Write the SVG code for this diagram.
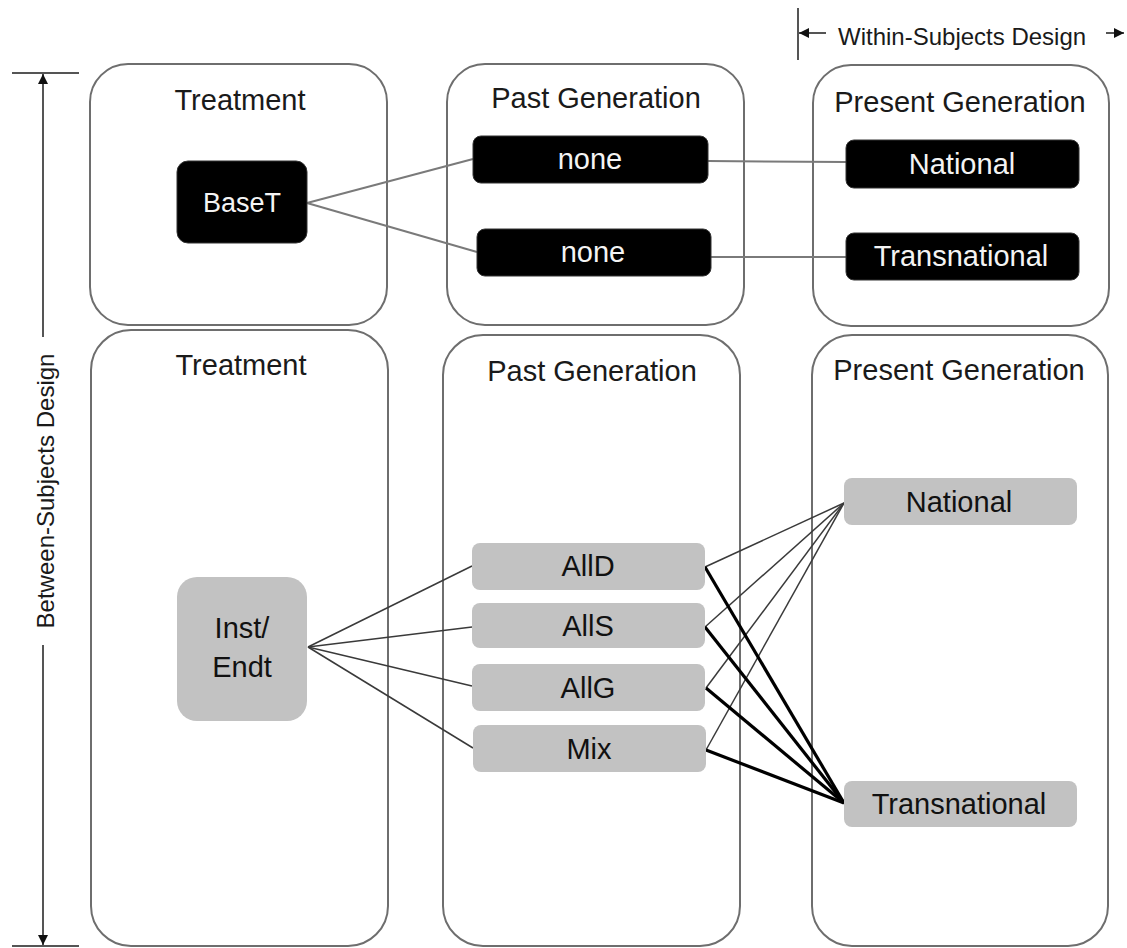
<svg xmlns="http://www.w3.org/2000/svg" width="1127" height="948" viewBox="0 0 1127 948">
<defs>
<style>
.panel{fill:#fff;stroke:#6e6e6e;stroke-width:2}
.title{font-family:"Liberation Sans",Arial,sans-serif;font-size:29px;fill:#1a1a1a;text-anchor:middle}
.lbl{font-family:"Liberation Sans",Arial,sans-serif;font-size:29px;text-anchor:middle}
.dark rect{fill:#000;stroke:#333;stroke-width:1}
.dark text{fill:#f4f4f4}
.light rect{fill:#c2c2c2}
.light text{fill:#111}
.ctop{stroke:#7a7a7a;stroke-width:2;fill:none}
.thin{stroke:#3a3a3a;stroke-width:1.5;fill:none}
.thick{stroke:#000;stroke-width:3.2;fill:none}
.axis{stroke:#555;stroke-width:2;fill:none}
.axtxt{font-family:"Liberation Sans",Arial,sans-serif;font-size:24px;fill:#1a1a1a}
</style>
<marker id="ah" viewBox="0 0 10 10" refX="10" refY="5" markerWidth="10" markerHeight="10" markerUnits="userSpaceOnUse" orient="auto">
<path d="M0,0 L10,5 L0,10 z" fill="#111"/>
</marker>
</defs>

<g id="axes">
<line class="axis" x1="12" y1="73" x2="79" y2="73"/>
<line class="axis" x1="12" y1="946" x2="79" y2="946"/>
<line class="axis" x1="43" y1="337" x2="43" y2="74" marker-end="url(#ah)"/>
<line class="axis" x1="43" y1="645" x2="43" y2="945" marker-end="url(#ah)"/>
<text class="axtxt" transform="translate(54,491) rotate(-90)" text-anchor="middle">Between-Subjects Design</text>
<line class="axis" x1="798" y1="8" x2="798" y2="60"/>
<line class="axis" x1="826" y1="33" x2="799" y2="33" marker-end="url(#ah)"/>
<text class="axtxt" x="838" y="45">Within-Subjects Design</text>
<line class="axis" x1="1106" y1="33" x2="1124" y2="33" marker-end="url(#ah)"/>
</g>

<g id="panel-treatment-top"><rect class="panel" x="90" y="64" width="297" height="261" rx="38"/><text class="title" x="240" y="110">Treatment</text></g>
<g id="panel-past-top"><rect class="panel" x="447" y="64" width="297" height="261" rx="38"/><text class="title" x="596" y="108">Past Generation</text></g>
<g id="panel-present-top"><rect class="panel" x="813" y="65" width="296" height="261" rx="38"/><text class="title" x="960" y="112">Present Generation</text></g>
<g id="panel-treatment-bottom"><rect class="panel" x="91" y="330" width="297" height="616" rx="40"/><text class="title" x="241" y="375">Treatment</text></g>
<g id="panel-past-bottom"><rect class="panel" x="443" y="335" width="297" height="611" rx="40"/><text class="title" x="592" y="381">Past Generation</text></g>
<g id="panel-present-bottom"><rect class="panel" x="812" y="335" width="296" height="611" rx="40"/><text class="title" x="959" y="380">Present Generation</text></g>

<g id="connectors">
<line class="ctop" x1="307" y1="203" x2="473" y2="159"/>
<line class="ctop" x1="307" y1="203" x2="477" y2="252"/>
<line class="ctop" x1="708" y1="161" x2="846" y2="162"/>
<line class="ctop" x1="711" y1="257" x2="846" y2="257"/>
<line class="thin" x1="308" y1="647" x2="472" y2="566"/>
<line class="thin" x1="308" y1="647" x2="472" y2="627"/>
<line class="thin" x1="308" y1="647" x2="472" y2="686"/>
<line class="thin" x1="308" y1="647" x2="473" y2="748"/>
<line class="thin" x1="705" y1="567" x2="844" y2="503"/>
<line class="thin" x1="705" y1="627" x2="844" y2="503"/>
<line class="thin" x1="706" y1="688" x2="844" y2="503"/>
<line class="thin" x1="706" y1="750" x2="844" y2="503"/>
<line class="thick" x1="705" y1="567" x2="844" y2="803"/>
<line class="thick" x1="705" y1="627" x2="844" y2="803"/>
<line class="thick" x1="706" y1="688" x2="844" y2="803"/>
<line class="thick" x1="706" y1="750" x2="844" y2="803"/>
</g>

<g id="node-baset" class="dark"><rect x="177" y="161" width="130" height="82" rx="11"/><text class="lbl" x="242" y="212" style="font-size:27px">BaseT</text></g>
<g id="node-none1" class="dark"><rect x="473" y="136" width="235" height="47" rx="8"/><text class="lbl" x="590" y="169">none</text></g>
<g id="node-none2" class="dark"><rect x="477" y="229" width="234" height="47" rx="8"/><text class="lbl" x="593" y="262">none</text></g>
<g id="node-national-top" class="dark"><rect x="846" y="140" width="233" height="48" rx="8"/><text class="lbl" x="962" y="174">National</text></g>
<g id="node-transnational-top" class="dark"><rect x="846" y="233" width="233" height="47" rx="8"/><text class="lbl" x="961" y="266">Transnational</text></g>

<g id="node-instendt" class="light"><rect x="177" y="577" width="130" height="144" rx="20"/><text class="lbl" x="242" y="638">Inst/</text><text class="lbl" x="242" y="677">Endt</text></g>
<g id="node-alld" class="light"><rect x="472" y="543" width="233" height="47" rx="8"/><text class="lbl" x="588" y="576">AllD</text></g>
<g id="node-alls" class="light"><rect x="472" y="603" width="233" height="45" rx="8"/><text class="lbl" x="588" y="636">AllS</text></g>
<g id="node-allg" class="light"><rect x="472" y="664" width="233" height="47" rx="8"/><text class="lbl" x="588" y="698">AllG</text></g>
<g id="node-mix" class="light"><rect x="473" y="725" width="233" height="47" rx="8"/><text class="lbl" x="589" y="759">Mix</text></g>
<g id="node-national-bottom" class="light"><rect x="844" y="478" width="233" height="47" rx="8"/><text class="lbl" x="959" y="512">National</text></g>
<g id="node-transnational-bottom" class="light"><rect x="844" y="781" width="233" height="46" rx="8"/><text class="lbl" x="959" y="814">Transnational</text></g>
</svg>
